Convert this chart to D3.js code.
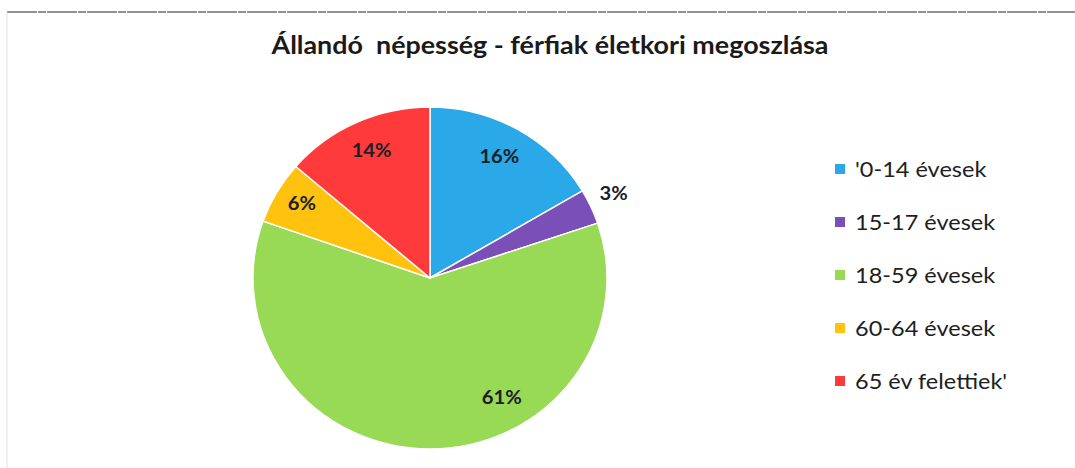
<!DOCTYPE html>
<html><head><meta charset="utf-8">
<script src="https://cdn.jsdelivr.net/npm/d3@7"></script>
<style>body{margin:0;background:#fff}svg{display:block}</style>
</head><body>
<svg id="c" width="1075" height="468"></svg>
<script>
const title = "Állandó  népesség - férfiak életkori megoszlása";
const categories = ["'0-14 évesek", "15-17 évesek", "18-59 évesek", "60-64 évesek", "65 év felettiek'"];
const values = [16.5, 3.3, 60.6, 5.9, 13.7];
const labels = ["16%", "3%", "61%", "6%", "14%"];
const colors = ["#2BA8E8", "#7A4FB8", "#98D956", "#FFC20E", "#FF3A3A"];
const labelFrac = [0.5, 0.5, 0.356, 0.5, 0.5];   // position along slice
const labelRad = [140, 202, 139, 148, 140];

const svg = d3.select("#c");
const font = "Lato, 'Open Sans', sans-serif";

svg.append("line").attr("x1",7).attr("x2",1075).attr("y1",12).attr("y2",12)
  .attr("stroke","#6e6e6e").attr("stroke-width",1.5).attr("stroke-dasharray","30 1 8 1");
svg.append("line").attr("x1",7).attr("x2",7).attr("y1",12).attr("y2",468)
  .attr("stroke","#e2e2e2").attr("stroke-width",1);

svg.append("text").attr("x",550).attr("y",54).attr("text-anchor","middle")
  .attr("font-family",font).attr("font-weight","bold").attr("font-size",24)
  .attr("textLength",557).attr("lengthAdjust","spacingAndGlyphs")
  .attr("fill","#1a1a1a").style("white-space","pre").text(title);

const cx = 430, cy = 278, r = 171, sx = 177/171;
const pie = d3.pie().sort(null).value(d=>d)(values);
const arc = d3.arc().innerRadius(0).outerRadius(r);
const g = svg.append("g").attr("transform",`translate(${cx},${cy}) scale(${sx},1)`);
g.selectAll("path").data(pie).join("path")
  .attr("d",arc).attr("fill",(d,i)=>colors[i])
  .attr("stroke","#fff").attr("stroke-width",1.5).attr("vector-effect","non-scaling-stroke");

const ang = (d,i)=>d.startAngle+(d.endAngle-d.startAngle)*labelFrac[i];
svg.selectAll("text.lbl").data(pie).join("text").attr("class","lbl")
  .attr("transform",(d,i)=>`translate(${cx+Math.sin(ang(d,i))*labelRad[i]},${cy-Math.cos(ang(d,i))*labelRad[i]}) scale(1.12,1)`)
  .attr("dy","0.36em").attr("text-anchor","middle")
  .attr("font-family",font).attr("font-weight","bold").attr("font-size",18)
  .attr("fill","#1b2028").text((d,i)=>labels[i]);

const leg = svg.append("g");
const y0 = 169, step = 53;
categories.forEach((c,i)=>{
  leg.append("rect").attr("x",835).attr("y",y0+i*step-5).attr("width",10).attr("height",10).attr("fill",colors[i]);
  leg.append("text").attr("transform",`translate(855,${y0+i*step}) scale(1.12,1)`).attr("dy","0.36em")
    .attr("font-family",font).attr("font-size",21).attr("fill","#1e1e1e").text(c);
});
</script>
</body></html>
